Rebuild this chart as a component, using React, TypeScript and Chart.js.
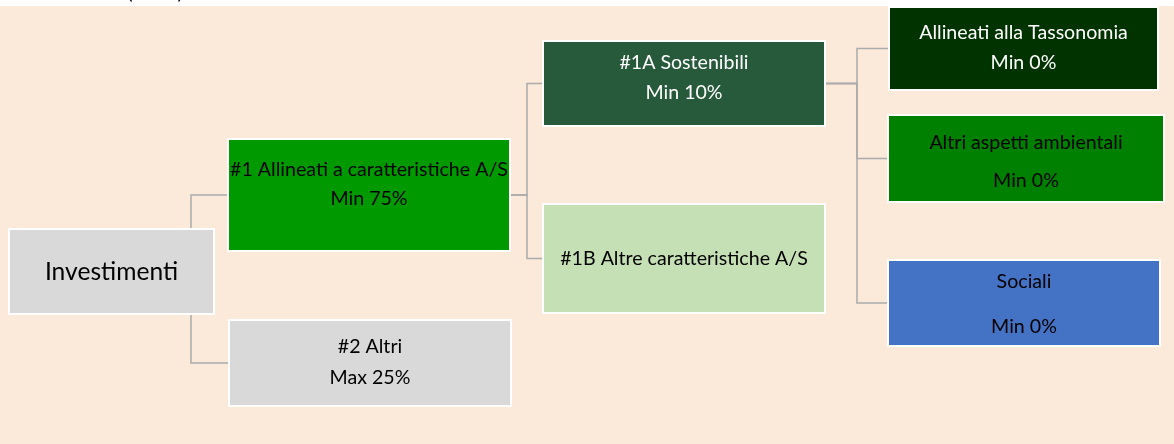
import React, { useEffect, useRef } from 'react';
import { Chart, registerables } from 'chart.js';

Chart.register(...registerables);

// ---- data ----
const nodeTitles = [
  'Investimenti',
  '#1 Allineati a caratteristiche A/S',
  '#2 Altri',
  '#1A Sostenibili',
  '#1B Altre caratteristiche A/S',
  'Allineati alla Tassonomia',
  'Altri aspetti ambientali',
  'Sociali',
];
const nodeShares = ['', 'Min 75%', 'Max 25%', 'Min 10%', '', 'Min 0%', 'Min 0%', 'Min 0%'];
const nodeParents = [-1, 0, 0, 1, 1, 3, 3, 3];
const headerText = '(   ...   )';

// ---- layout (chart units) ----
const boxLeft = [8, 227, 228, 542, 542, 888, 887, 887];
const boxRight = [215, 511, 512, 826, 826, 1159, 1165, 1161];
const boxTop = [228, 138, 319, 40, 203, 6, 114, 259];
const boxBottom = [315, 252, 407, 127, 314, 91, 203, 347];
const titleY = [272, 170, 347, 63, 259, 33, 143, 282];
const shareY = [0, 199, 378, 93, 0, 63, 181, 327];
const elbowX = [191, 527, null, 857, null, null, null, null];

// ---- styles ----
const fillColors = ['#D9D9D9', '#009900', '#D9D9D9', '#275A3B', '#C5E0B4', '#003300', '#008000', '#4472C4'];
const textColors = ['#000000', '#000000', '#000000', '#FFFFFF', '#000000', '#FFFFFF', '#000000', '#000000'];
const fontSizes = [24.6, 19.6, 19.6, 19.6, 19.6, 19.6, 19.6, 19.6];
const BG = '#FBE9D9';
const LINE = '#ABABAB';
const FONT = 'Lato, "Open Sans", sans-serif';

const diagramPlugin = {
  id: 'diagram',
  beforeDraw(chart: any) {
    const { ctx, scales } = chart;
    const xs = scales.x;
    const ys = scales.y;
    const px = (v: number) => xs.getPixelForValue(v);
    const py = (v: number) => ys.getPixelForValue(v);
    ctx.save();
    ctx.fillStyle = '#FFFFFF';
    ctx.fillRect(0, 0, chart.width, chart.height);
    ctx.fillStyle = BG;
    ctx.fillRect(px(0), py(6), px(1174) - px(0), py(444) - py(6));
    // header (cut off at top)
    ctx.fillStyle = '#000000';
    ctx.font = `20px ${FONT}`;
    ctx.textAlign = 'center';
    ctx.textBaseline = 'alphabetic';
    ctx.fillText(headerText, px(155), py(-1));

    // connectors
    ctx.strokeStyle = LINE;
    ctx.lineWidth = 1.5;
    const cy = (i: number) => (boxTop[i] + boxBottom[i]) / 2;
    nodeParents.forEach((p, i) => {
      if (p < 0) return;
      const ex = elbowX[p] as number;
      ctx.beginPath();
      if (ex < boxRight[p]) {
        const startY = cy(i) < boxTop[p] ? boxTop[p] : boxBottom[p];
        ctx.moveTo(px(ex), py(startY));
        ctx.lineTo(px(ex), py(cy(i)));
        ctx.lineTo(px(boxLeft[i]), py(cy(i)));
      } else {
        ctx.moveTo(px(boxRight[p]), py(cy(p)));
        ctx.lineTo(px(ex), py(cy(p)));
        ctx.lineTo(px(ex), py(cy(i)));
        ctx.lineTo(px(boxLeft[i]), py(cy(i)));
      }
      ctx.stroke();
    });

    // boxes
    nodeTitles.forEach((t, i) => {
      const l = px(boxLeft[i]);
      const r = px(boxRight[i]);
      const tp = py(boxTop[i]);
      const b = py(boxBottom[i]);
      ctx.fillStyle = '#FFFFFF';
      ctx.fillRect(l, tp, r - l, b - tp);
      ctx.fillStyle = fillColors[i];
      ctx.fillRect(l + 2, tp + 2, r - l - 4, b - tp - 4);
      ctx.fillStyle = textColors[i];
      ctx.font = `${fontSizes[i]}px ${FONT}`;
      ctx.textAlign = 'center';
      ctx.textBaseline = 'middle';
      const mx = (l + r) / 2;
      ctx.fillText(t, mx, py(titleY[i]));
      if (nodeShares[i]) ctx.fillText(nodeShares[i], mx, py(shareY[i]));
    });
    ctx.restore();
  },
};

export default function App() {
  const ref = useRef<HTMLCanvasElement | null>(null);
  useEffect(() => {
    document.body.style.margin = '0';
    if (!ref.current) return;
    const chart = new Chart(ref.current, {
      type: 'scatter',
      data: {
        datasets: [
          {
            label: 'nodes',
            data: nodeTitles.map((_, i) => ({
              x: (boxLeft[i] + boxRight[i]) / 2,
              y: (boxTop[i] + boxBottom[i]) / 2,
            })),
            pointRadius: 0,
            pointHoverRadius: 0,
          },
        ],
      },
      options: {
        responsive: false,
        animation: false,
        devicePixelRatio: 1,
        layout: { padding: 0 },
        events: [],
        plugins: { legend: { display: false }, tooltip: { enabled: false }, title: { display: false } },
        scales: {
          x: { type: 'linear', min: 0, max: 1174, display: false },
          y: { type: 'linear', min: 0, max: 444, reverse: true, display: false },
        },
      },
      plugins: [diagramPlugin],
    });
    return () => chart.destroy();
  }, []);
  return <canvas ref={ref} width={1174} height={444} style={{ display: 'block' }} />;
}
